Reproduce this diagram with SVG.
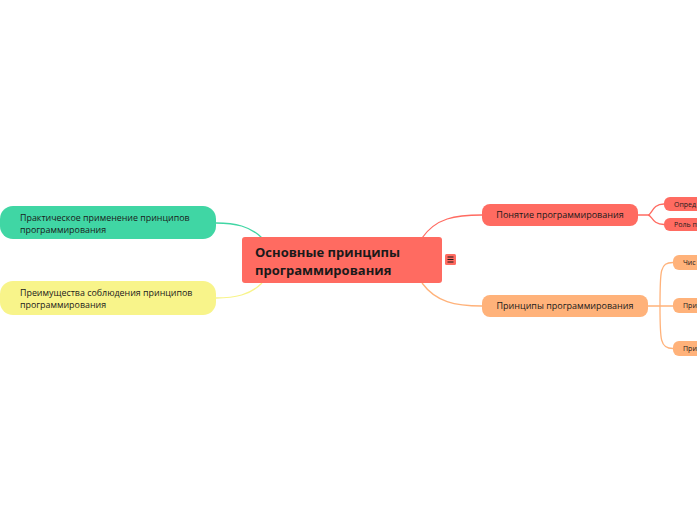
<svg xmlns="http://www.w3.org/2000/svg" width="697" height="520" viewBox="0 0 697 520">
<style>
text{font-family:"Open Sans","Noto Sans","Liberation Sans",sans-serif;fill:#1a1a1a}
.c{fill:none;stroke-width:1.3}
.red{fill:#FF6B61}
.org{fill:#FFB27A}
.t1{font-size:9px}
.t2{font-size:8.9px}
.t3{font-size:7px}
</style>
<rect width="697" height="520" fill="#fff"/>
<g id="connectors">
<path class="c" stroke="#FF6B61" d="M422 238 C436 218 455 215 482 215"/>
<path class="c" stroke="#FFB27A" d="M422 283 C436 302 455 306 482 306"/>
<path class="c" stroke="#40D6A4" d="M262 238 C250 226 235 223 216 223"/>
<path class="c" stroke="#F8F48A" d="M262 283 C250 295 235 298 216 298"/>
<path class="c" stroke="#FF6B61" d="M638 215 H648 C652 215 652 204 664 204 M648 215 C652 215 652 224.5 664 224.5"/>
<path class="c" stroke="#FFB27A" d="M648 306 H660 M660 306 C660 270 660 262.5 673 262.5 M660 306 H673 M660 306 C660 340 660 348.5 673 348.5"/>
</g>
<g id="central">
<rect class="red" x="242" y="237" width="200" height="46" rx="3"/>
<text x="255" y="257" font-size="13" font-weight="bold">Основные принципы</text>
<text x="255" y="275" font-size="13" font-weight="bold">программирования</text>
</g>
<g id="icon">
<rect class="red" x="445" y="254" width="11" height="11" rx="1.5"/>
<path d="M447.5 257h6M447.5 259.5h6M447.5 262h6" stroke="#1a1a1a" stroke-width="1"/>
</g>
<g id="ponyatie">
<rect class="red" x="482" y="204" width="156" height="22" rx="8"/>
<text class="t1" x="560" y="218" text-anchor="middle">Понятие программирования</text>
</g>
<g id="opred">
<rect class="red" x="664" y="197" width="50" height="14" rx="6"/>
<text class="t3" x="674" y="206.5">Опред</text>
</g>
<g id="rol">
<rect class="red" x="664" y="218" width="50" height="13" rx="6"/>
<text class="t3" x="674" y="227">Роль п</text>
</g>
<g id="principy">
<rect class="org" x="482" y="295" width="166" height="22" rx="8"/>
<text class="t1" x="565" y="309" text-anchor="middle">Принципы программирования</text>
</g>
<g id="chis">
<rect class="org" x="673" y="255" width="40" height="15" rx="6"/>
<text class="t3" x="683" y="265">Чис</text>
</g>
<g id="pri1">
<rect class="org" x="673" y="298" width="40" height="15" rx="6"/>
<text class="t3" x="683" y="308">При</text>
</g>
<g id="pri2">
<rect class="org" x="673" y="341" width="40" height="15" rx="6"/>
<text class="t3" x="683" y="351">При</text>
</g>
<g id="praktika">
<rect x="0" y="206" width="216" height="33" rx="13" fill="#40D6A4"/>
<text class="t2" x="20" y="221">Практическое применение принципов</text>
<text class="t2" x="20" y="233">программирования</text>
</g>
<g id="preimush">
<rect x="0" y="281" width="216" height="34" rx="13" fill="#F8F48A"/>
<text class="t2" x="20" y="296">Преимущества соблюдения принципов</text>
<text class="t2" x="20" y="308">программирования</text>
</g>
</svg>
